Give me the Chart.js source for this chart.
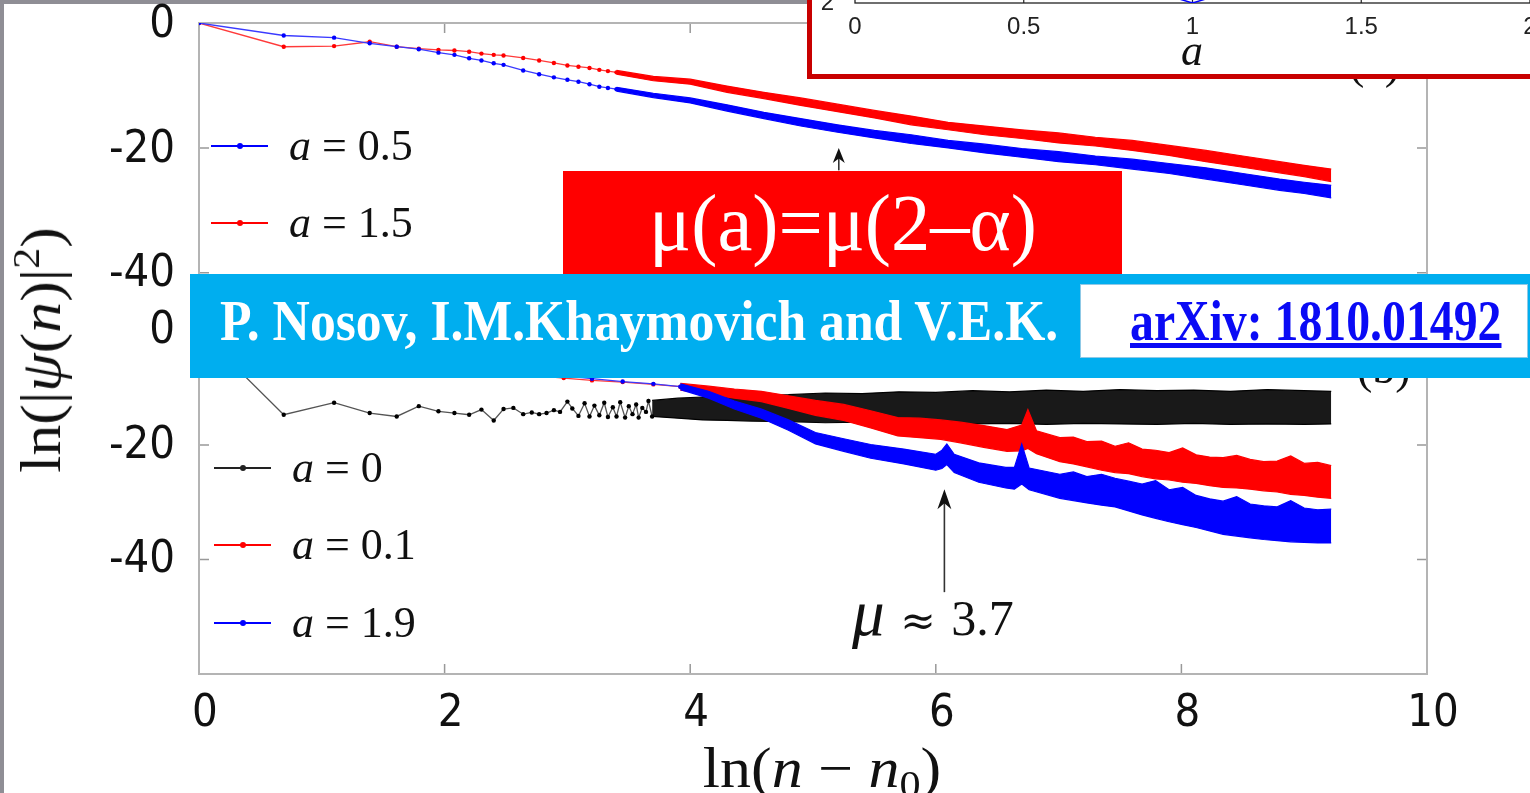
<!DOCTYPE html>
<html>
<head>
<meta charset="utf-8">
<title>ln|psi(n)|^2 vs ln(n - n0)</title>
<script src="https://cdn.jsdelivr.net/npm/chart.js@4.4.1/dist/chart.umd.min.js"></script>
<style>
  html, body { margin: 0; padding: 0; }
  body { position: relative; width: 1530px; height: 793px; overflow: hidden; background: #8f8e95;
         font-family: 'Liberation Serif', 'DejaVu Serif', serif; }
  #sheet { position: absolute; left: 4px; top: 4px; right: 0; bottom: 0; background: #fff; }
  .wrap { position: absolute; z-index: 1; }
  .txt { position: absolute; white-space: nowrap; color: #111; }
  .key { position: absolute; z-index: 2; height: 0; }
  .kline { position: absolute; left: 0; top: -1px; width: 57px; height: 1.6px; }
  .kdot { position: absolute; left: 26px; top: -3px; width: 6px; height: 6px; border-radius: 50%; }
  .ktext { position: absolute; left: 78px; top: -26px; font-size: 44px; line-height: 52px; color: #111; white-space: nowrap; }
  .sup { font-size: 0.68em; position: relative; top: -0.55em; }
  .sub { font-size: 0.68em; position: relative; top: 0.25em; }
  .sym { font-family: 'DejaVu Serif', serif; font-size: 0.85em; }
  .mu { font-size: 1.3em; }
  #inset { position: absolute; left: 807px; top: -10px; width: 740px; height: 89px; box-sizing: border-box;
           border: 5px solid #c80000; background: #fff; overflow: hidden; z-index: 5; }
  #insetWrap { position: absolute; left: 0; top: -215px; }
  #redBox { position: absolute; left: 563px; top: 171px; width: 559px; height: 110px; background: #ff0000; z-index: 4; }
  #banner { position: absolute; left: 190px; top: 274px; width: 1340px; height: 104px; background: #00aeef; z-index: 6; }
  #refBox { position: absolute; left: 1080px; top: 284px; width: 448px; height: 74px; box-sizing: border-box;
            background: #fff; border: 1px solid #8fc9e6; z-index: 7; }
</style>
</head>
<body>
<div id="sheet"></div>

<div class="wrap" style="left:0;top:0"><canvas id="topChart" width="1530" height="312"></canvas></div>
<div class="wrap" style="left:0;top:290px"><canvas id="botChart" width="1530" height="503"></canvas></div>

<div id="yTitle" class="txt" style="left:44px;top:350px;font-size:56px;line-height:62px;z-index:2">ln(|<i>ψ</i>(<i>n</i>)|<span class="sup">2</span>)</div>
<div id="xTitle" class="txt" style="left:822px;top:737px;font-size:56px;line-height:62px;z-index:2">ln(<i>n</i> − <i>n</i><span class="sub">0</span>)</div>
<div id="muLabel" class="txt" style="left:852px;top:584px;font-size:50px;line-height:58px;word-spacing:3px;z-index:2"><i class="mu">μ</i> <span class="sym">≈</span> 3.7</div>
<div class="txt" style="left:1349px;top:37px;font-size:46px;line-height:51px;z-index:2">(a)</div>
<div class="txt" style="left:1357px;top:342px;font-size:46px;line-height:51px;z-index:2">(b)</div>

<div id="inset">
  <div id="insetWrap"><canvas id="insetChart" width="730" height="290"></canvas></div>
  <div class="txt" style="left:380px;top:31px;font-size:44px;line-height:49px;transform:translateX(-50%)"><i>a</i></div>
</div>

<div id="redBox"></div>
<div id="redText" class="txt" style="left:843px;top:179px;font-size:80px;line-height:88px;color:#fff;z-index:4">μ(a)=μ(2–α)</div>

<div id="banner"></div>
<div id="refBox"></div>
<div id="authors" class="txt" style="left:220px;top:290px;font-size:56px;line-height:62px;font-weight:bold;color:#fff;z-index:7">P. Nosov, I.M.Khaymovich and V.E.K.</div>
<div id="arxiv" class="txt" style="left:1130px;top:290px;font-size:56px;line-height:62px;font-weight:bold;color:#0a0af5;text-decoration:underline;z-index:8">arXiv: 1810.01492</div>

<script>
// ---- ticks ----
const xTicks = [0, 2, 4, 6, 8, 10];
const yTicks = [0, -20, -40];
const insetXTicks = [0, 0.5, 1, 1.5, 2];
const insetYTicks = [2, 3, 4];

// ---- panel (a): a = 0.5 (blue), a = 1.5 (red) ----
const topNames = ['0.5', '1.5'];
const topEarlyX = [0, 0.69, 1.10, 1.39, 1.61, 1.79, 1.95, 2.08, 2.20, 2.30, 2.40, 2.48, 2.64, 2.77, 2.89, 3.00, 3.09, 3.18, 3.26, 3.33, 3.40];
const topBlueEarly = [0, -2.0, -2.35, -3.25, -3.8, -4.2, -4.75, -5.1, -5.65, -6.0, -6.45, -6.7, -7.6, -8.2, -8.7, -9.1, -9.4, -9.8, -10.2, -10.4, -10.6];
const topRedEarly = [0, -3.8, -3.7, -3.0, -3.8, -4.1, -4.3, -4.4, -4.6, -4.9, -5.1, -5.2, -5.6, -6.0, -6.4, -6.8, -7.0, -7.2, -7.5, -7.7, -7.9];
// noisy tail, upper / lower edge of the band
const topBandX = [3.40, 3.70, 4.00, 4.30, 4.60, 4.90, 5.20, 5.50, 5.80, 6.10, 6.40, 6.70, 7.00, 7.30, 7.60, 7.90, 8.20, 8.50, 8.80, 9.00, 9.22];
const topRedHi = [-7.6, -8.55, -9.0, -10.1, -11.1, -12.0, -13.0, -14.0, -14.9, -15.9, -16.5, -17.1, -17.6, -18.3, -18.8, -19.6, -20.4, -21.3, -22.2, -22.8, -23.4];
const topRedLo = [-8.2, -9.25, -9.8, -11.1, -12.1, -13.2, -14.2, -15.2, -16.3, -17.1, -17.9, -18.5, -19.2, -19.7, -20.4, -21.2, -22.2, -23.1, -24.0, -24.6, -25.4];
const topBlueHi = [-10.3, -11.25, -12.0, -13.1, -14.3, -15.3, -16.3, -17.2, -17.9, -18.8, -19.4, -20.1, -20.6, -21.3, -21.8, -22.5, -23.2, -24.1, -25.0, -25.5, -26.0];
const topBlueLo = [-10.9, -11.95, -12.8, -14.1, -15.3, -16.5, -17.5, -18.4, -19.3, -20.0, -20.8, -21.5, -22.2, -22.7, -23.4, -24.1, -25.0, -25.9, -26.8, -27.3, -28.0];

// ---- panel (b): a = 0 (black), a = 0.1 (red), a = 1.9 (blue) ----
const botNames = ['0', '0.1', '1.9'];
const botBlackEarlyX = [0, 0.69, 1.10, 1.39, 1.61, 1.79, 1.95, 2.08, 2.20, 2.30, 2.40, 2.48, 2.56, 2.64, 2.71, 2.77, 2.83, 2.89, 2.94, 3.00,
                        3.04, 3.09, 3.14, 3.18, 3.22, 3.26, 3.30, 3.33, 3.37, 3.40, 3.43, 3.47, 3.50, 3.53, 3.56, 3.58, 3.61, 3.64, 3.66, 3.69];
const botBlackEarly = [0, -14.7, -12.6, -14.4, -15.0, -13.2, -14.1, -14.4, -14.7, -13.8, -15.7, -13.7, -13.5, -14.6, -14.3, -14.6, -14.4, -13.9, -14.2, -12.4,
                       -13.6, -14.9, -12.7, -15.0, -13.1, -14.8, -12.6, -15.1, -13.4, -15.0, -12.5, -15.2, -13.2, -14.6, -12.9, -15.2, -13.5, -14.2, -12.3, -15.0];
const botBlackBandX = [3.69, 3.90, 4.10, 4.30, 4.50, 4.80, 5.10, 5.40, 5.70, 6.00, 6.30, 6.60, 6.90, 7.20, 7.50, 7.80, 8.10, 8.40, 8.70, 9.00, 9.22];
const botBlackHi = [-12.2, -11.8, -11.6, -11.5, -11.3, -11.2, -10.9, -11.0, -10.7, -10.8, -10.5, -10.7, -10.4, -10.6, -10.3, -10.5, -10.4, -10.6, -10.3, -10.5, -10.6];
const botBlackLo = [-15.0, -15.3, -15.6, -15.7, -15.8, -15.9, -16.1, -16.0, -16.2, -16.1, -16.3, -16.2, -16.4, -16.2, -16.3, -16.4, -16.2, -16.4, -16.3, -16.4, -16.3];

const botEarlyX = [0, 0.69, 1.10, 1.39, 1.61, 1.79, 1.95, 2.08, 2.30, 2.48, 2.64, 2.77, 2.97, 3.20, 3.45, 3.70, 3.92];
const botRedEarly = [0, -2.6, -3.5, -4.2, -4.8, -5.3, -5.7, -6.1, -6.7, -7.2, -7.6, -7.9, -8.3, -8.7, -9.0, -9.4, -9.8];
const botBlueEarly = [0, -1.6, -2.5, -3.2, -3.8, -4.3, -4.7, -5.1, -5.8, -6.4, -6.9, -7.3, -7.9, -8.4, -8.9, -9.3, -9.8];

const botRedBandX = [3.92, 4.15, 4.36, 4.58, 4.80, 5.02, 5.25, 5.47, 5.69, 5.87, 6.04, 6.20, 6.39, 6.58, 6.70, 6.75, 6.82, 7.01,
                     7.12, 7.23, 7.35, 7.46, 7.57, 7.68, 7.79, 7.90, 8.01, 8.12, 8.23, 8.34, 8.45, 8.56, 8.67, 8.78, 8.89, 9.00, 9.11, 9.22];
const botRedHi = [-9.2, -9.7, -10.2, -10.6, -11.4, -12.2, -12.9, -14.0, -15.2, -15.3, -15.6, -16.0, -16.6, -17.3, -16.5, -13.8, -17.5, -18.7,
                  -18.6, -19.4, -19.3, -20.2, -19.6, -20.7, -20.9, -21.3, -20.5, -21.7, -22.1, -22.2, -21.8, -22.5, -22.9, -22.8, -21.9, -23.2, -23.0, -23.6];
const botRedLo = [-10.4, -11.1, -11.8, -12.4, -13.6, -14.8, -15.7, -17.0, -18.4, -18.7, -19.0, -19.6, -20.4, -21.1, -21.0, -20.6, -21.5, -22.9,
                  -23.3, -23.8, -24.4, -24.8, -25.0, -25.5, -25.9, -26.1, -26.5, -26.7, -27.1, -27.4, -27.5, -27.7, -28.0, -28.2, -28.6, -28.8, -29.1, -29.3];

const botBlueBandX = [3.92, 4.15, 4.36, 4.58, 4.80, 5.02, 5.25, 5.47, 5.74, 6.00, 6.05, 6.09, 6.15, 6.35, 6.57, 6.64, 6.70, 6.76, 7.01,
                      7.12, 7.23, 7.35, 7.46, 7.57, 7.68, 7.79, 7.90, 8.01, 8.12, 8.23, 8.34, 8.45, 8.56, 8.67, 8.78, 8.89, 9.00, 9.11, 9.22];
const botBlueHi = [-9.3, -10.6, -12.3, -13.7, -15.6, -17.8, -18.9, -19.9, -20.7, -21.6, -20.9, -19.8, -21.6, -23.1, -23.9, -23.9, -19.8, -24.0, -25.1,
                   -24.7, -25.5, -25.1, -25.8, -26.3, -26.8, -26.2, -27.8, -27.4, -28.8, -29.4, -29.8, -29.0, -30.3, -30.6, -30.8, -29.7, -31.0, -31.3, -31.2];
const botBlueLo = [-10.3, -11.8, -13.7, -15.3, -17.4, -19.8, -21.1, -22.3, -23.3, -24.4, -24.1, -23.4, -24.8, -26.5, -27.5, -27.7, -26.8, -27.8, -29.3,
                   -29.7, -30.1, -30.5, -30.8, -31.5, -32.2, -32.8, -33.4, -33.9, -34.4, -35.0, -35.6, -35.9, -36.2, -36.5, -36.7, -36.9, -37.0, -37.1, -37.1];

// ---- inset: mu(a) ----
const insetA = [0.1, 0.3, 0.5, 0.7, 0.9, 1.0, 1.1, 1.3, 1.5, 1.7, 1.9];
const insetMu = [3.7, 3.1, 2.7, 2.4, 2.1, 2.0, 2.1, 2.4, 2.7, 3.1, 3.7];

// ---- arrows (data coords) ----
const arrowsTop = [{ x: 5.21, from: -23.6, to: -20.0 }];
const arrowsBot = [{ x: 6.07, from: -45.7, to: -27.7 }];

const BLUE = '#0000ff', RED = '#ff0000', BLACK = '#000000';
const tickFont = { family: "'DejaVu Sans Condensed', 'DejaVu Sans', sans-serif", size: 45 };

function pts(xs, ys) {
    return xs.map((x, i) => ({ x: x, y: ys[i] }));
}

// no extra room for edge labels, the plot box is fixed
function noPad(s) {
    s.paddingTop = 0; s.paddingBottom = 0; s.paddingLeft = 0; s.paddingRight = 0;
}

// early part drawn as thin line with dots, noisy tail as a filled band
function addSeries(list, s) {
    list.push({
        data: pts(s.earlyX, s.earlyY), borderColor: s.line, borderWidth: 1.3,
        pointRadius: 2.2, pointBackgroundColor: s.color, pointBorderWidth: 0, fill: false, order: s.order
    });
    const hiIndex = list.length;
    list.push({
        data: pts(s.bandX, s.hi), borderColor: s.color, borderWidth: 1.2, pointRadius: 0, fill: false, order: s.order
    });
    list.push({
        data: pts(s.bandX, s.lo), borderColor: s.color, borderWidth: 1.2, pointRadius: 0,
        fill: hiIndex, backgroundColor: s.fill || s.color, order: s.order
    });
}

// border box, inward tick marks and annotation arrows
function makeFrame(cfg) {
    return {
        id: 'frame',
        beforeDatasetsDraw(chart) {
            const { ctx, chartArea: a, scales } = chart;
            ctx.save();
            ctx.strokeStyle = cfg.tickColor;
            ctx.lineWidth = cfg.tickWidth;
            ctx.beginPath();
            (cfg.xTicks || []).forEach(v => {
                const px = scales.x.getPixelForValue(v);
                if (cfg.top) { ctx.moveTo(px, a.top); ctx.lineTo(px, a.top + cfg.len); }
                if (cfg.bottom) { ctx.moveTo(px, a.bottom); ctx.lineTo(px, a.bottom - cfg.len); }
            });
            (cfg.yTicks || []).forEach(v => {
                const py = scales.y.getPixelForValue(v);
                ctx.moveTo(a.left, py); ctx.lineTo(a.left + cfg.len, py);
                ctx.moveTo(a.right, py); ctx.lineTo(a.right - cfg.len, py);
            });
            ctx.stroke();
            ctx.strokeStyle = cfg.color;
            ctx.lineWidth = cfg.width;
            ctx.strokeRect(a.left, a.top, a.right - a.left, a.bottom - a.top);
            ctx.restore();
        },
        afterDatasetsDraw(chart) {
            const { ctx, scales } = chart;
            (cfg.arrows || []).forEach(ar => {
                const px = scales.x.getPixelForValue(ar.x);
                const y0 = scales.y.getPixelForValue(ar.from);
                const y1 = scales.y.getPixelForValue(ar.to);
                const hl = cfg.headLen, hw = cfg.headHalf;
                ctx.save();
                ctx.strokeStyle = '#333';
                ctx.lineWidth = 1.6;
                ctx.beginPath();
                ctx.moveTo(px, y0);
                ctx.lineTo(px, y1 + hl * 0.6);
                ctx.stroke();
                ctx.fillStyle = '#111';
                ctx.beginPath();
                ctx.moveTo(px, y1);
                ctx.lineTo(px - hw, y1 + hl);
                ctx.lineTo(px, y1 + hl * 0.7);
                ctx.lineTo(px + hw, y1 + hl);
                ctx.closePath();
                ctx.fill();
                ctx.restore();
            });
        }
    };
}

function yScale(min, max, ticks, width, labelOffset) {
    return {
        min: min, max: max,
        afterFit: s => { s.width = width; noPad(s); },
        afterBuildTicks: s => { s.ticks = ticks.map(v => ({ value: v })); },
        grid: { display: false }, border: { display: false },
        ticks: { font: tickFont, color: '#111', padding: 16, labelOffset: labelOffset || 0 }
    };
}

// ---------- panel (a) ----------
const topSets = [];
addSeries(topSets, { earlyX: topEarlyX, earlyY: topBlueEarly, bandX: topBandX, hi: topBlueHi, lo: topBlueLo,
    color: BLUE, line: '#3a3aff', order: 0 });
addSeries(topSets, { earlyX: topEarlyX, earlyY: topRedEarly, bandX: topBandX, hi: topRedHi, lo: topRedLo,
    color: RED, line: '#ff3a3a', order: 1 });

new Chart(document.getElementById('topChart'), {
    type: 'line',
    data: { datasets: topSets },
    options: {
        responsive: false, animation: false, events: [],
        layout: { padding: { top: 23, right: 103, bottom: 8, left: 0 } },
        elements: { line: { tension: 0 } },
        plugins: { legend: { display: false }, tooltip: { enabled: false } },
        scales: {
            x: { type: 'linear', min: 0, max: 10, display: false },
            y: yScale(-45, 0, yTicks, 199, 2)
        }
    },
    plugins: [makeFrame({ color: '#b4b4b4', width: 2, tickColor: '#999', tickWidth: 1.5, len: 10,
        xTicks: [2, 4, 6, 8], yTicks: [-20, -40], top: true, bottom: false,
        arrows: arrowsTop, headLen: 15, headHalf: 6 })]
});

// ---------- panel (b) ----------
const botSets = [];
addSeries(botSets, { earlyX: botEarlyX, earlyY: botBlueEarly, bandX: botBlueBandX, hi: botBlueHi, lo: botBlueLo,
    color: BLUE, line: '#3a3aff', order: 0 });
addSeries(botSets, { earlyX: botEarlyX, earlyY: botRedEarly, bandX: botRedBandX, hi: botRedHi, lo: botRedLo,
    color: RED, line: '#ff3a3a', order: 1 });
addSeries(botSets, { earlyX: botBlackEarlyX, earlyY: botBlackEarly, bandX: botBlackBandX, hi: botBlackHi, lo: botBlackLo,
    color: BLACK, line: '#555', fill: 'rgba(0,0,0,0.9)', order: 2 });

new Chart(document.getElementById('botChart'), {
    type: 'line',
    data: { datasets: botSets },
    options: {
        responsive: false, animation: false, events: [],
        layout: { padding: { top: 12, right: 103, bottom: 0, left: 0 } },
        elements: { line: { tension: 0 } },
        plugins: { legend: { display: false }, tooltip: { enabled: false } },
        scales: {
            x: {
                type: 'linear', min: 0, max: 10,
                afterFit: s => { s.height = 119; noPad(s); },
                afterBuildTicks: s => { s.ticks = xTicks.map(v => ({ value: v })); },
                grid: { display: false }, border: { display: false },
                ticks: { font: tickFont, color: '#111', padding: 5, labelOffset: 6, maxRotation: 0 }
            },
            y: yScale(-60, 5, yTicks, 199, 1)
        }
    },
    plugins: [makeFrame({ color: '#b4b4b4', width: 2, tickColor: '#999', tickWidth: 1.5, len: 10,
        xTicks: [2, 4, 6, 8], yTicks: [-20, -40], top: false, bottom: true,
        arrows: arrowsBot, headLen: 20, headHalf: 7 })]
});

// ---------- inset ----------
const insetFont = { family: "'Liberation Sans', Arial, sans-serif", size: 24 };
new Chart(document.getElementById('insetChart'), {
    type: 'line',
    data: {
        datasets: [{
            data: pts(insetA, insetMu), borderColor: BLUE, borderWidth: 1.5,
            pointRadius: 1.5, pointBackgroundColor: BLUE, pointBorderWidth: 0, fill: false
        }]
    },
    options: {
        responsive: false, animation: false, events: [],
        layout: { padding: { top: 20, right: 12, bottom: 0, left: 0 } },
        plugins: { legend: { display: false }, tooltip: { enabled: false } },
        scales: {
            x: {
                type: 'linear', min: 0, max: 2,
                afterFit: s => { s.height = 67; noPad(s); },
                afterBuildTicks: s => { s.ticks = insetXTicks.map(v => ({ value: v })); },
                grid: { display: false }, border: { display: false },
                ticks: { font: insetFont, color: '#222', padding: 2, maxRotation: 0, callback: v => String(v) }
            },
            y: {
                min: 2, max: 4,
                afterFit: s => { s.width = 43; noPad(s); },
                afterBuildTicks: s => { s.ticks = insetYTicks.map(v => ({ value: v })); },
                grid: { display: false }, border: { display: false },
                ticks: { font: insetFont, color: '#222', padding: 13, callback: v => String(v) }
            }
        }
    },
    plugins: [makeFrame({ color: '#222', width: 1.3, tickColor: '#222', tickWidth: 1.2, len: 12,
        xTicks: [0.5, 1, 1.5], top: false, bottom: true })]
});

// ---------- legends ----------
function addKey(name, color, x, y) {
    const k = document.createElement('div');
    k.className = 'key';
    k.style.left = x + 'px';
    k.style.top = y + 'px';
    k.innerHTML = '<span class="kline" style="background:' + color + '"></span>' +
        '<span class="kdot" style="background:' + color + '"></span>' +
        '<span class="ktext"><i>a</i> = ' + name + '</span>';
    document.body.appendChild(k);
}
addKey(topNames[0], BLUE, 211, 146);
addKey(topNames[1], RED, 211, 223);
addKey(botNames[0], '#222', 214, 468);
addKey(botNames[1], RED, 214, 545);
addKey(botNames[2], BLUE, 214, 623);

// ---------- fit text widths ----------
function fit(id, target, tpl) {
    const el = document.getElementById(id);
    const k = (target / el.offsetWidth).toFixed(3);
    el.style.transform = tpl.replace('K', k);
}
function fitAll() {
    document.getElementById('authors').style.transformOrigin = '0 50%';
    document.getElementById('arxiv').style.transformOrigin = '0 50%';
    fit('authors', 838, 'scaleX(K)');
    fit('arxiv', 372, 'scaleX(K)');
    fit('redText', 388, 'translateX(-50%) scaleX(K)');
    fit('yTitle', 245, 'translate(-50%, -50%) rotate(-90deg) scaleX(K)');
    fit('xTitle', 239, 'translateX(-50%) scaleX(K)');
}
fitAll();
if (document.fonts && document.fonts.ready) document.fonts.ready.then(fitAll);
</script>
</body>
</html>
